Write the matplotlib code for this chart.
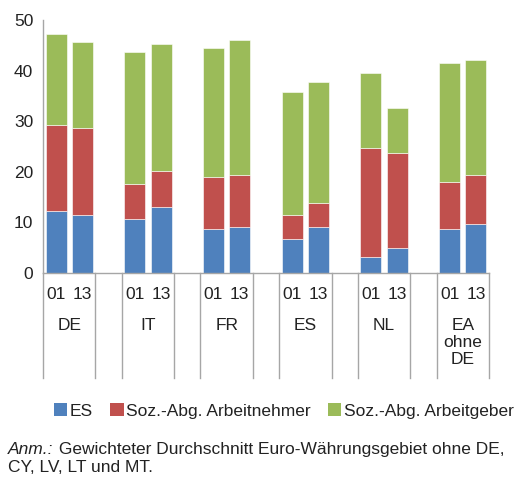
import matplotlib.pyplot as plt
import matplotlib.transforms as mtransforms
from matplotlib.patches import Patch

plt.rcParams['font.family'] = ['Liberation Sans', 'DejaVu Sans']

groups = ["DE", "IT", "FR", "ES", "NL", "EA\nohne\nDE"]
years = ["01", "13"]
# values per group: (2001, 2013)
es = [(12.2, 11.5), (10.7, 13.0), (8.75, 9.0), (6.7, 9.0), (3.2, 4.9), (8.6, 9.7)]
an = [(17.1, 17.2), (6.9, 7.1), (10.2, 10.3), (4.8, 4.8), (21.6, 18.8), (9.4, 9.6)]
ag = [(17.9, 17.0), (26.1, 25.2), (25.5, 26.8), (24.3, 23.9), (14.7, 8.9), (23.6, 22.8)]
series_names = ["ES", "Soz.-Abg. Arbeitnehmer", "Soz.-Abg. Arbeitgeber"]
colors = ["#4F81BD", "#C0504D", "#9BBB59"]

fig = plt.figure(figsize=(5.16, 4.86), dpi=100)
ax = fig.add_axes([43/516, 1 - 273/486, (489 - 43)/516, (273 - 20)/486])

grey = "#A6A6A6"
txt = "#222222"
fs = 12.5
for g in range(len(groups)):
    for j in range(2):
        x = g*3 + j
        bottom = 0
        for vals, c in zip((es, an, ag), colors):
            v = vals[g][j]
            ax.bar(x, v, width=0.8, bottom=bottom, color=c, edgecolor="white", linewidth=0.4)
            bottom += v

ax.set_xlim(-0.5, 16.5)
ax.set_ylim(0, 50)
ax.set_yticks(range(0, 51, 10))
ax.tick_params(axis='y', length=0, pad=7, labelsize=fs, colors=txt)
ax.set_xticks([])
for s in ["top", "right"]:
    ax.spines[s].set_visible(False)
for s in ["left", "bottom"]:
    ax.spines[s].set_color(grey)
    ax.spines[s].set_linewidth(1.0)

# category separators and two-level labels
trans = mtransforms.blended_transform_factory(ax.transData, ax.transAxes)
line_bottom = (273 - 378) / 253
for g in range(len(groups)):
    for xb in (g*3 - 0.5, g*3 + 1.5):
        ax.plot([xb, xb], [0, line_bottom], transform=trans, color=grey, lw=1.0, clip_on=False)
    for j in range(2):
        ax.text(g*3 + j, (273 - 294)/253, years[j], transform=trans, ha='center', va='center',
                fontsize=fs, color=txt)
    ax.text(g*3 + 0.5, (273 - 318)/253, groups[g], transform=trans, ha='center', va='top',
            fontsize=fs, color=txt, linespacing=1.15)

handles = [Patch(facecolor=c, edgecolor='none') for c in colors]
fig.legend(handles, series_names, loc='center', bbox_to_anchor=(284/516, 1 - 411/486), ncol=3,
           frameon=False, fontsize=fs, handlelength=0.75, handleheight=0.75, handletextpad=0.15,
           columnspacing=1.0, labelcolor=txt)

t1 = fig.text(8/516, 1 - 449/486, "Anm.:", fontsize=fs, style='italic', va='center', color=txt)
ax.annotate(" Gewichteter Durchschnitt Euro-Währungsgebiet ohne DE,", xy=(1, 0), xycoords=t1,
            va='bottom', fontsize=fs, color=txt, annotation_clip=False)
fig.text(8/516, 1 - 467/486, "CY, LV, LT und MT.", fontsize=fs, va='center', color=txt)

fig.savefig("out.png", dpi=100)
